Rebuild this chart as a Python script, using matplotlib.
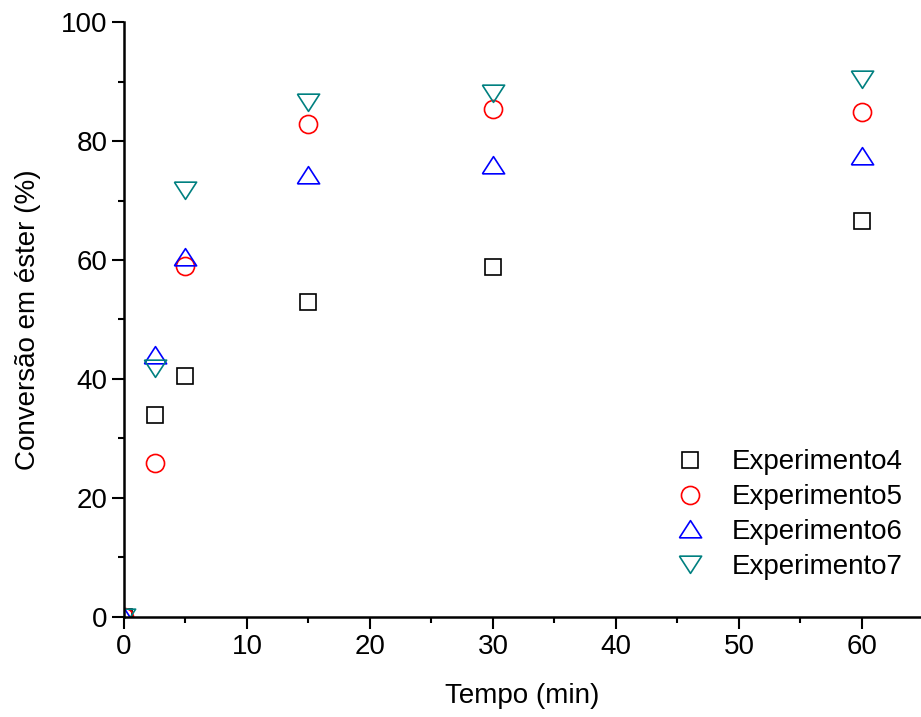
import numpy as np
import matplotlib.pyplot as plt
from matplotlib.ticker import MultipleLocator

plt.rcParams['font.family'] = ['Liberation Sans', 'DejaVu Sans']

# data
tempo = [0, 2.5, 5, 15, 30, 60]
exp4 = [0, 33.9, 40.5, 52.9, 58.8, 66.5]
exp5 = [0, 25.9, 59.0, 82.8, 85.3, 84.8]
exp6 = [0, 44.0, 60.5, 74.3, 75.9, 77.5]
exp7 = [0, 41.8, 71.8, 86.6, 88.0, 90.4]
labels = ['Experimento4', 'Experimento5', 'Experimento6', 'Experimento7']

tri_up = [(-1, -0.75), (1, -0.75), (0, 0.8), (-1, -0.75)]
tri_down = [(-1, 0.75), (1, 0.75), (0, -0.8), (-1, 0.75)]

fig = plt.figure(figsize=(9.21, 7.17), dpi=100)
ax = fig.add_axes([0.1346, 0.1395, 0.8654, 0.8298])

series = [exp4, exp5, exp6, exp7]
markers = ['s', 'o', tri_up, tri_down]
sizes = [11.5, 13, 16, 16]
colors = ['black', 'red', 'blue', '#008080']
for y, m, s, c, lab in zip(series, markers, sizes, colors, labels):
    ax.plot(tempo, y, linestyle='none', marker=m, markersize=s,
            markerfacecolor='none', markeredgecolor=c, markeredgewidth=1.2,
            label=lab)

ax.set_xlim(0, 64.8)
ax.set_ylim(0, 100)
ax.xaxis.set_major_locator(MultipleLocator(10))
ax.xaxis.set_minor_locator(MultipleLocator(5))
ax.yaxis.set_major_locator(MultipleLocator(20))
ax.yaxis.set_minor_locator(MultipleLocator(10))
ax.tick_params(which='major', direction='out', length=8.5, width=1.5, labelsize=20)
ax.tick_params(which='minor', direction='out', length=4.5, width=1.5)

for side in ['top', 'right']:
    ax.spines[side].set_visible(False)
for side in ['left', 'bottom']:
    ax.spines[side].set_linewidth(1.8)

ax.set_xlabel('Tempo (min)', fontsize=20, labelpad=17)
ax.set_ylabel('Conversão em éster (%)', fontsize=20, labelpad=14)

ax.legend(loc='lower right', bbox_to_anchor=(1.008, 0.02), frameon=False,
          fontsize=20, handletextpad=0.75, labelspacing=0.32, handlelength=1.5)

fig.savefig('out.png', dpi=100)
